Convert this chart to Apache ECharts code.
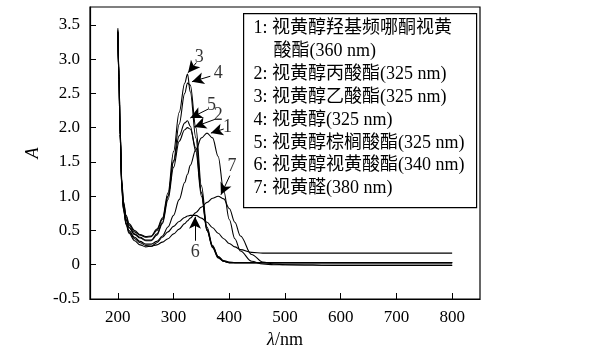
<!DOCTYPE html>
<html>
<head>
<meta charset="utf-8">
<script src="https://cdn.jsdelivr.net/npm/echarts@6/dist/echarts.min.js"></script>
<style>
  html, body { margin: 0; padding: 0; background: #fff; }
  #uv-container { width: 595px; height: 351px; }
</style>
</head>
<body>
<div id="uv-container"></div>
<script>
// wavelength (nm)
const wavelength = [200, 202, 204, 207, 210, 215, 220, 230, 240, 250, 260, 270, 280, 290, 300, 310, 320, 325, 330, 340, 350, 360, 370, 380, 390, 400, 410, 420, 440, 460, 480, 500, 600, 700, 800]
// absorbance of each compound
const absorb1 = [3.40, 2.70, 1.90, 1.15, 0.82, 0.60, 0.50, 0.40, 0.34, 0.30, 0.30, 0.34, 0.42, 0.55, 0.72, 0.95, 1.20, 1.32, 1.45, 1.68, 1.85, 1.92, 1.85, 1.58, 1.08, 0.66, 0.38, 0.20, 0.05, 0.01, 0.00, 0.00, -0.01, -0.01, -0.01]
const absorb2 = [3.40, 2.74, 1.94, 1.18, 0.86, 0.65, 0.54, 0.44, 0.39, 0.35, 0.35, 0.43, 0.60, 0.95, 1.42, 1.80, 1.97, 2.00, 1.98, 1.70, 1.05, 0.52, 0.26, 0.11, 0.05, 0.03, 0.03, 0.03, 0.03, 0.03, 0.03, 0.03, 0.03, 0.03, 0.03]
const absorb3 = [3.45, 2.80, 2.00, 1.25, 0.92, 0.72, 0.60, 0.50, 0.44, 0.41, 0.42, 0.52, 0.68, 1.05, 1.65, 2.22, 2.65, 2.78, 2.52, 1.85, 1.05, 0.50, 0.27, 0.12, 0.06, 0.04, 0.03, 0.03, 0.03, 0.03, 0.03, 0.03, 0.03, 0.03, 0.03]
const absorb4 = [3.42, 2.78, 1.98, 1.22, 0.90, 0.70, 0.58, 0.48, 0.43, 0.40, 0.41, 0.50, 0.66, 1.00, 1.52, 2.05, 2.50, 2.65, 2.62, 2.00, 1.15, 0.55, 0.28, 0.12, 0.05, 0.03, 0.03, 0.03, 0.03, 0.03, 0.03, 0.03, 0.03, 0.03, 0.03]
const absorb5 = [3.40, 2.75, 1.95, 1.20, 0.88, 0.66, 0.55, 0.45, 0.40, 0.36, 0.36, 0.45, 0.62, 1.00, 1.50, 1.88, 2.07, 2.10, 2.02, 1.65, 1.00, 0.50, 0.25, 0.10, 0.05, 0.03, 0.03, 0.03, 0.03, 0.03, 0.03, 0.03, 0.03, 0.03, 0.03]
const absorb6 = [3.38, 2.70, 1.90, 1.12, 0.80, 0.58, 0.46, 0.35, 0.29, 0.26, 0.27, 0.32, 0.40, 0.48, 0.56, 0.63, 0.69, 0.71, 0.72, 0.72, 0.68, 0.62, 0.54, 0.46, 0.38, 0.31, 0.26, 0.22, 0.18, 0.17, 0.17, 0.17, 0.17, 0.17, 0.17]
const absorb7 = [3.38, 2.70, 1.90, 1.15, 0.82, 0.60, 0.48, 0.38, 0.32, 0.28, 0.27, 0.29, 0.33, 0.38, 0.45, 0.52, 0.60, 0.64, 0.68, 0.76, 0.84, 0.91, 0.97, 1.00, 0.96, 0.82, 0.62, 0.42, 0.15, 0.04, 0.01, 0.00, -0.01, -0.01, -0.01]
const seriesNames = ['1', '2', '3', '4', '5', '6', '7']
const seriesData = [absorb1, absorb2, absorb3, absorb4, absorb5, absorb6, absorb7]

const xTicks = [200, 300, 400, 500, 600, 700, 800]
const yTicks = [-0.5, 0, 0.5, 1.0, 1.5, 2.0, 2.5, 3.0, 3.5]

// curve labels with arrows
const annoText = ['3', '4', '5', '2', '1', '7', '6']
const annoLabelX = [346, 380, 368, 380, 397, 405, 339]
const annoLabelY = [3.03, 2.80, 2.33, 2.18, 2.01, 1.44, 0.18]
const arrowFromX = [341, 366, 362, 374, 390, 401, 338.5]
const arrowFromY = [2.95, 2.75, 2.27, 2.12, 1.98, 1.30, 0.35]
const arrowToX = [326, 333, 330, 337, 367, 385, 338.5]
const arrowToY = [2.80, 2.67, 2.14, 2.01, 1.92, 1.02, 0.70]

const legendLines = [
  '1: 视黄醇羟基频哪酮视黄',
  '酸酯(360 nm)',
  '2: 视黄醇丙酸酯(325 nm)',
  '3: 视黄醇乙酸酯(325 nm)',
  '4: 视黄醇(325 nm)',
  '5: 视黄醇棕榈酸酯(325 nm)',
  '6: 视黄醇视黄酸酯(340 nm)',
  '7: 视黄醛(380 nm)'
]

const FONT = "'Liberation Serif', 'Noto Sans CJK SC', serif"

const myChart = echarts.init(document.getElementById('uv-container'))

const curves = seriesData.map((arr, i) => {
  return {
    name: seriesNames[i],
    type: 'line',
    smooth: 0.35,
    smoothMonotone: 'x',
    symbol: 'none',
    lineStyle: { color: '#000', width: 1.1 },
    data: arr.map((v, j) => [wavelength[j], v]),
    z: 2
  }
})

const annoSeries = {
  type: 'scatter',
  symbolSize: 0,
  silent: true,
  data: annoText.map((t, i) => ({ name: t, value: [annoLabelX[i], annoLabelY[i]] })),
  label: {
    show: true,
    position: 'inside',
    formatter: p => p.name,
    color: '#000',
    fontFamily: FONT,
    fontSize: 18
  },
  markLine: {
    silent: true,
    symbol: ['none', 'arrow'],
    symbolSize: [9, 12],
    animation: false,
    label: { show: false },
    lineStyle: { color: '#000', width: 1, type: 'solid' },
    data: annoText.map((t, i) => [
      { coord: [arrowFromX[i], arrowFromY[i]] },
      { coord: [arrowToX[i], arrowToY[i]] }
    ])
  },
  z: 5
}

const legendItems = legendLines.map((line, i) => {
  return {
    type: 'text',
    left: /^\d/.test(line) ? 10 : 30,
    top: 6 + i * 22.85,
    style: {
      text: line,
      fill: '#000',
      font: '18px ' + FONT
    }
  }
})

const option = {
  animation: false,
  backgroundColor: '#fff',
  grid: {
    left: 90,
    right: 115,
    top: 7,
    bottom: 52,
    outerBoundsMode: 'none',
    containLabel: false,
    show: true,
    borderColor: '#000',
    borderWidth: 1.2
  },
  xAxis: {
    type: 'value',
    min: 150,
    max: 850,
    name: '{i|λ}/nm',
    nameLocation: 'middle',
    nameGap: 30,
    nameTextStyle: {
      color: '#000',
      fontFamily: FONT,
      fontSize: 18,
      rich: { i: { fontStyle: 'italic', fontFamily: FONT, fontSize: 18, color: '#000' } }
    },
    axisLine: { onZero: false, lineStyle: { color: '#000', width: 1.2 } },
    axisTick: { inside: true, length: 6, customValues: xTicks, lineStyle: { color: '#000' } },
    axisLabel: {
      customValues: xTicks,
      color: '#000',
      fontFamily: FONT,
      fontSize: 17,
      margin: 10
    },
    splitLine: { show: false }
  },
  yAxis: {
    type: 'value',
    min: -0.5,
    max: 3.76,
    name: '{i|A}',
    nameLocation: 'middle',
    nameGap: 46,
    nameRotate: 90,
    nameTextStyle: {
      color: '#000',
      fontFamily: FONT,
      fontSize: 18,
      rich: { i: { fontStyle: 'italic', fontFamily: FONT, fontSize: 18, color: '#000' } }
    },
    axisLine: { onZero: false, lineStyle: { color: '#000', width: 1.2 } },
    axisTick: { inside: true, length: 6, customValues: yTicks, lineStyle: { color: '#000' } },
    axisLabel: {
      customValues: yTicks,
      color: '#000',
      fontFamily: FONT,
      fontSize: 17,
      margin: 10,
      formatter: v => (v === 0 ? '0' : v.toFixed(1))
    },
    splitLine: { show: false }
  },
  graphic: [
    {
      type: 'group',
      left: 243,
      top: 13,
      z: 10,
      children: [
        {
          type: 'rect',
          shape: { x: 0, y: 0, width: 233, height: 194 },
          style: { fill: '#fff', stroke: '#000', lineWidth: 1.2 }
        }
      ].concat(legendItems)
    }
  ],
  series: curves.concat([annoSeries])
}

myChart.setOption(option)
</script>
</body>
</html>
